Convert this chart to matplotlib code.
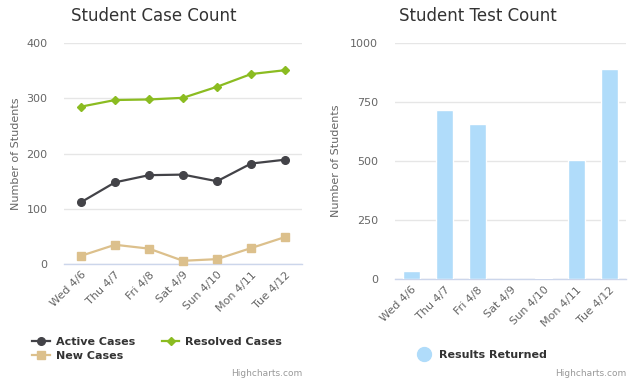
import numpy as np
import matplotlib
matplotlib.use('Agg')
from matplotlib import pyplot as plt
from matplotlib.lines import Line2D

days = ['Wed 4/6', 'Thu 4/7', 'Fri 4/8', 'Sat 4/9', 'Sun 4/10', 'Mon 4/11', 'Tue 4/12']
active_cases = [112, 148, 161, 162, 150, 182, 189]
resolved_cases = [285, 297, 298, 301, 321, 344, 351]
new_cases = [15, 35, 28, 6, 9, 29, 49]
results_returned = [35, 716, 658, 0, 5, 505, 889]

case_ticks = [0, 100, 200, 300, 400]
test_ticks = [0, 250, 500, 750, 1000]

plt.rcParams['font.family'] = ['DejaVu Sans']

c_active = '#434348'
c_resolved = '#8bbc21'
c_new = '#dcc08c'
c_bar = '#b0dcfa'
grid_c = '#e6e6e6'
axis_c = '#ccd6eb'
label_c = '#666666'

fig = plt.figure(figsize=(6.4, 3.85), dpi=100)
ax1 = fig.add_axes([0.1, 0.314, 0.372, 0.574])
ax2 = fig.add_axes([0.617, 0.275, 0.361, 0.614])

def style_axis(ax, ticks):
	for s in ['top', 'right', 'left']:
		ax.spines[s].set_visible(False)
	ax.spines['bottom'].set_color(axis_c)
	ax.spines['bottom'].set_linewidth(1)
	ax.set_yticks(ticks)
	ax.set_ylim(ticks[0], ticks[-1])
	ax.set_xlim(-0.5, len(days) - 0.5)
	ax.yaxis.grid(True, color=grid_c, lw=1)
	ax.set_axisbelow(True)
	ax.tick_params(axis='y', length=0, pad=12, labelsize=8, labelcolor=label_c)
	ax.tick_params(axis='x', length=0, pad=4, labelsize=8, labelcolor=label_c)
	ax.set_xticks(range(len(days)))
	ax.set_xticklabels(days, rotation=45, ha='right', rotation_mode='anchor')
	ax.set_ylabel('Number of Students', fontsize=8, color=label_c)

x = np.arange(len(days))

# left: case counts
style_axis(ax1, case_ticks)
ax1.plot(x, active_cases, color=c_active, lw=1.6, marker='o', ms=5.5, label='Active Cases', clip_on=False, zorder=3)
ax1.plot(x, resolved_cases, color=c_resolved, lw=1.6, marker='D', ms=4.5, label='Resolved Cases', clip_on=False, zorder=3)
ax1.plot(x, new_cases, color=c_new, lw=1.6, marker='s', ms=5.5, label='New Cases', clip_on=False, zorder=3)
fig.text(0.241, 0.958, 'Student Case Count', fontsize=12, color='#333333', ha='center', va='center')
ax1.yaxis.set_label_coords(-0.18, 0.5)

h, l = ax1.get_legend_handles_labels()
order = [0, 2, 1]
leg1 = fig.legend([h[i] for i in order], [l[i] for i in order], loc='upper left',
	bbox_to_anchor=(0.035, 0.15), ncol=2, frameon=False, columnspacing=2.4,
	handlelength=1.6, handletextpad=0.5, labelspacing=0.3,
	prop={'weight': 'bold', 'size': 8})
for t in leg1.get_texts():
	t.set_color('#333333')

# right: test counts
style_axis(ax2, test_ticks)
ax2.bar(x, results_returned, width=0.5, color=c_bar, edgecolor='white', lw=1, zorder=3)
fig.text(0.747, 0.958, 'Student Test Count', fontsize=12, color='#333333', ha='center', va='center')
ax2.yaxis.set_label_coords(-0.235, 0.5)

marker = Line2D([], [], color=c_bar, marker='o', ms=10, lw=0)
leg2 = fig.legend([marker], ['Results Returned'], loc='center',
	bbox_to_anchor=(0.75, 0.078), frameon=False, handletextpad=0.3,
	prop={'weight': 'bold', 'size': 8})
for t in leg2.get_texts():
	t.set_color('#333333')

fig.text(0.472, 0.029, 'Highcharts.com', ha='right', va='center', fontsize=6.5, color='#999999')
fig.text(0.978, 0.029, 'Highcharts.com', ha='right', va='center', fontsize=6.5, color='#999999')

plt.savefig('out.png', dpi=100)
